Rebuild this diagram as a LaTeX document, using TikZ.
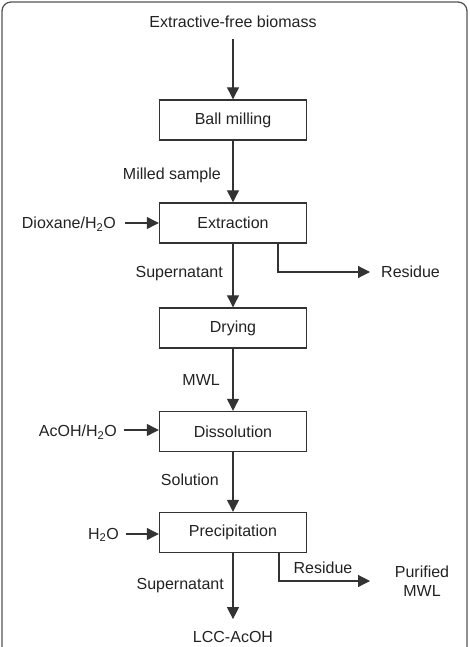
\documentclass[tikz,border=0pt]{standalone}
\usepackage{fontspec}
\setmainfont{Liberation Sans}
\usetikzlibrary{arrows.meta,calc}
\definecolor{ink}{HTML}{222222}
\definecolor{lin}{HTML}{333333}
\definecolor{frm}{HTML}{555555}
\tikzset{
  stepbox/.style={draw=lin,line width=1.4pt,minimum width=147pt,minimum height=40pt,inner sep=0pt,text=ink},
  lbl/.style={inner sep=0pt,text=ink},
  arr/.style={draw=lin,line width=1.2pt,-{Triangle[length=12pt,width=12pt]}},
  ln/.style={draw=lin,line width=1.2pt}
}
\begin{document}
\begin{tikzpicture}[x=1pt,y=-1pt,font=\fontsize{16}{19}\selectfont]
\useasboundingbox (0,0) rectangle (469,647);
\draw[frm,line width=1.3pt,rounded corners=9pt] (2,660) -- (2,2) -- (467,2) -- (467,660);

\node[lbl] (src) at (233,22) {Extractive-free biomass};
\node[stepbox] (ball) at (233,120) {Ball milling};
\node[stepbox] (extr) at (233,223) {Extraction};
\node[stepbox] (dry) at (233,328) {Drying};
\node[stepbox] (diss) at (233,431.5) {Dissolution};
\node[stepbox] (prec) at (233,532.5) {Precipitation};
\node[lbl] (lcc) at (233,637) {LCC-AcOH};

\node[lbl,anchor=east] (milled) at (221,175) {Milled sample};
\node[lbl,anchor=east] (sup1) at (223,274) {Supernatant};
\node[lbl,anchor=east] (mwl) at (220,380) {MWL};
\node[lbl,anchor=east] (soln) at (219,480) {Solution};
\node[lbl,anchor=east] (sup2) at (224,586) {Supernatant};

\node[lbl,anchor=east] (diox) at (116,224) {Dioxane/H\textsubscript{2}O};
\node[lbl,anchor=east] (acoh) at (117,432) {AcOH/H\textsubscript{2}O};
\node[lbl,anchor=east] (water) at (119,535) {H\textsubscript{2}O};

\node[lbl,anchor=west] (res1) at (381,272) {Residue};
\node[lbl] (res2) at (323,568) {Residue};
\node[lbl,align=center] (pur) at (422,581) {Purified\\MWL};

\coordinate (r1a) at (278,243);
\coordinate (r1b) at (370,272);
\coordinate (r2a) at (279,552);
\coordinate (r2b) at (370,581);

\draw[arr] (src.south) ++(0,11) -- (ball.north);
\draw[arr] (ball.south) -- (extr.north);
\draw[arr] (extr.south) -- (dry.north);
\draw[arr] (dry.south) -- (diss.north);
\draw[arr] (diss.south) -- (prec.north);
\draw[arr] (prec.south) -- ($(lcc.north)+(0,-12)$);

\draw[arr] ($(diox.east)+(9,-1)$) -- (extr.west |- 0,223);
\draw[arr] ($(acoh.east)+(7,-2)$) -- (diss.west |- 0,430);
\draw[arr] ($(water.east)+(7,-1)$) -- (prec.west |- 0,534);

\draw[arr] (r1a) |- (r1b);
\draw[arr] (r2a) |- (r2b);
\end{tikzpicture}
\end{document}
